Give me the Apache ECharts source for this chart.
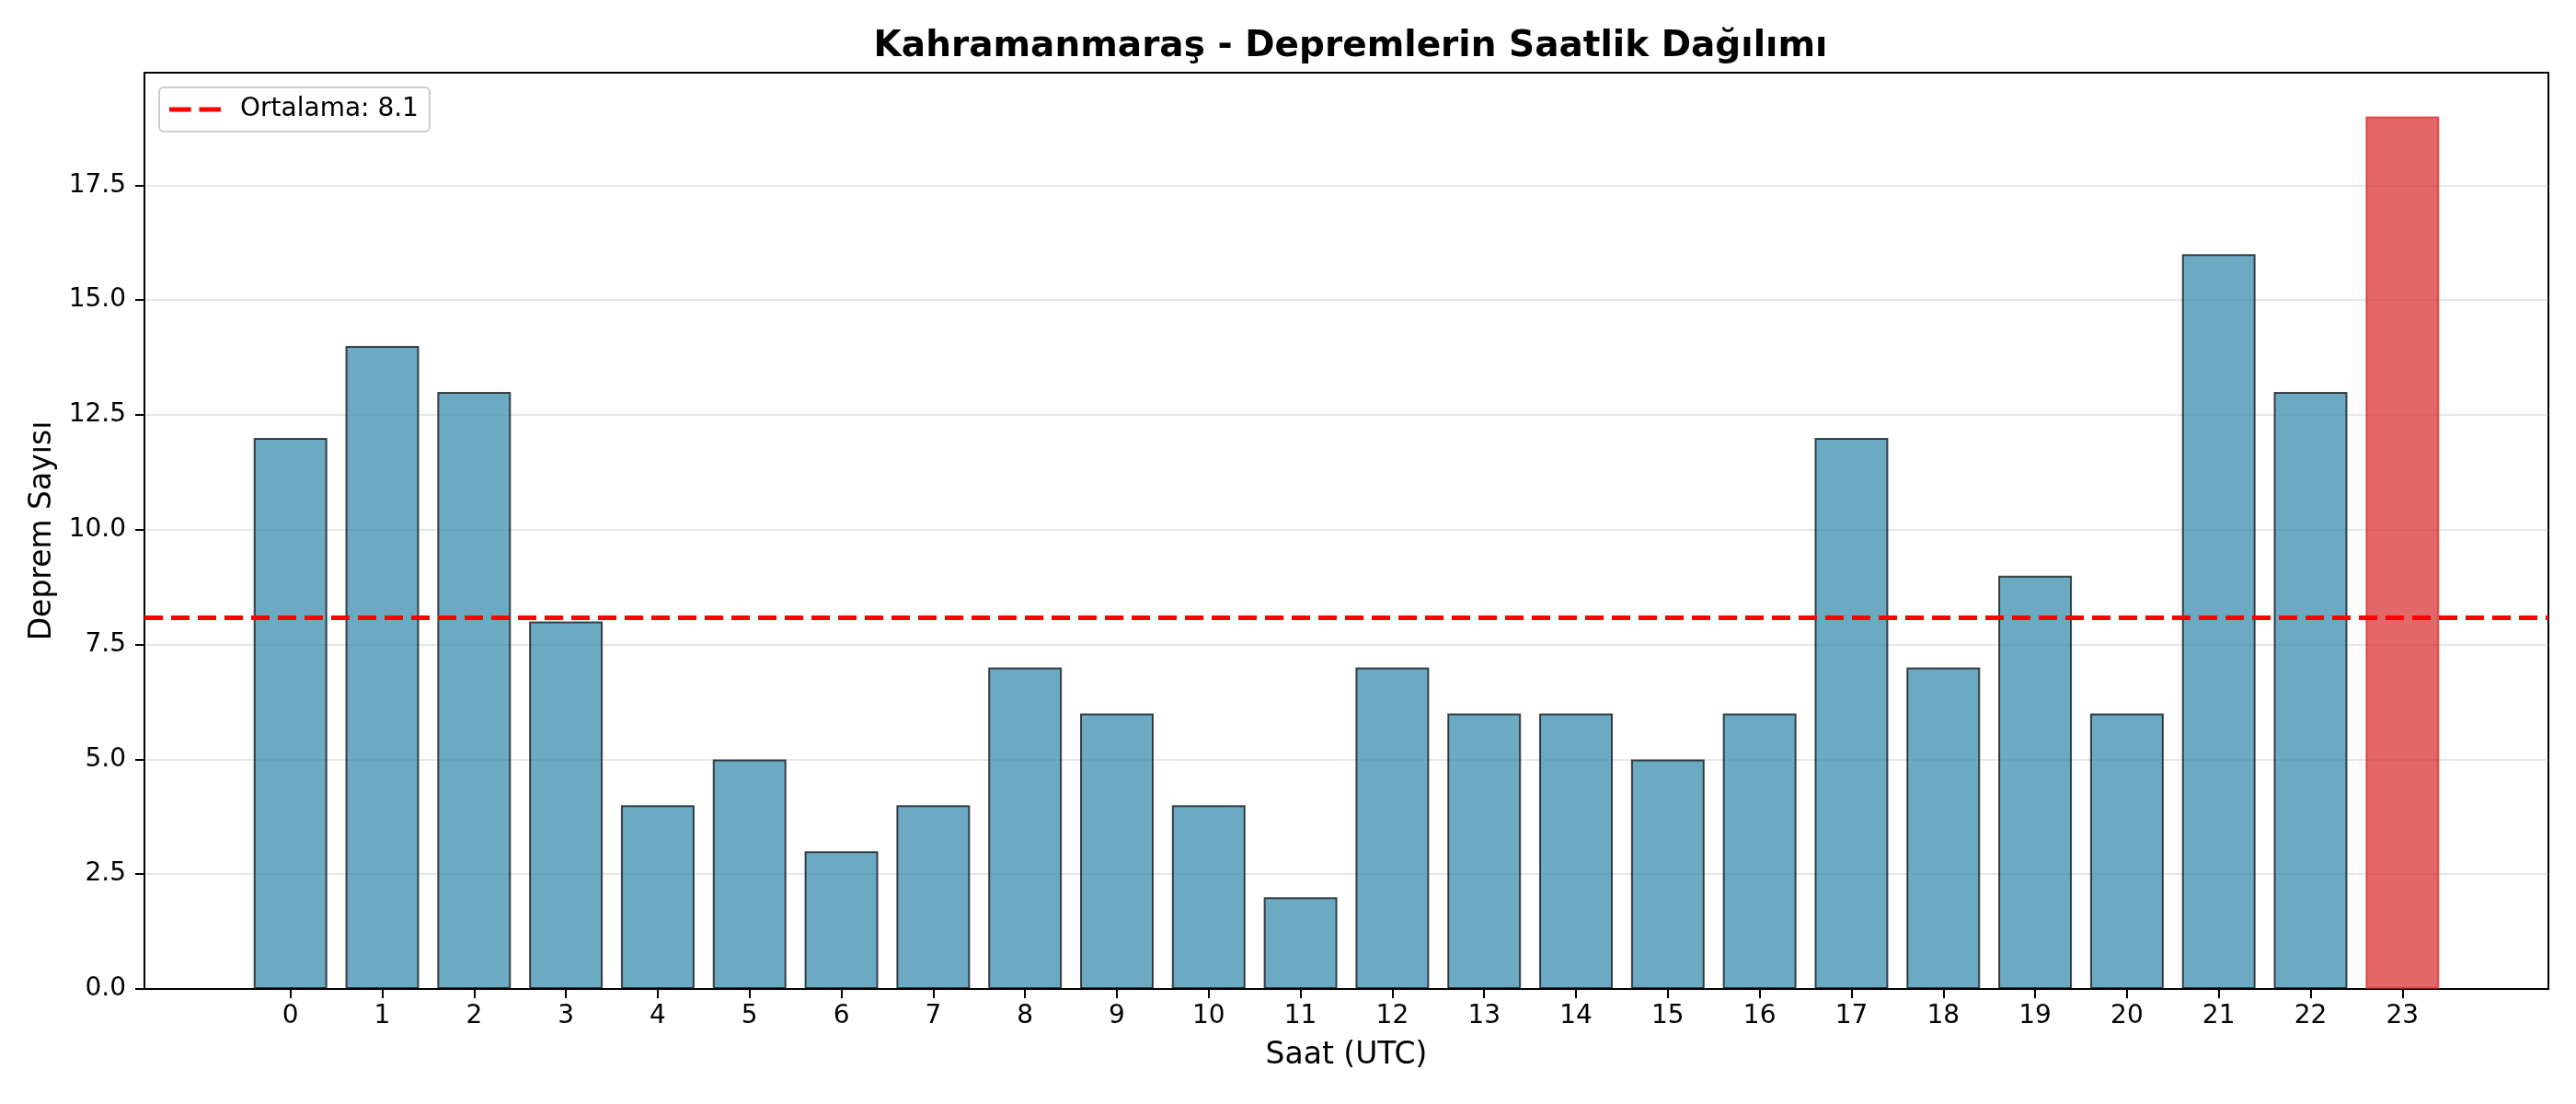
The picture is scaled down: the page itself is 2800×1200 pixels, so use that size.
<!DOCTYPE html>
<html>
<head>
<meta charset="utf-8">
<script src="https://cdn.jsdelivr.net/npm/echarts@6/dist/echarts.min.js"></script>
<style>
html, body { margin: 0; padding: 0; background: #fff; }
#chart { width: 2800px; height: 1200px; }
</style>
</head>
<body>
<div id="chart"></div>
<script>
// saatlik deprem sayilari
const hours = [0, 1, 2, 3, 4, 5, 6, 7, 8, 9, 10, 11, 12, 13, 14, 15, 16, 17, 18, 19, 20, 21, 22, 23];
const counts = [12, 14, 13, 8, 4, 5, 3, 4, 7, 6, 4, 2, 7, 6, 6, 5, 6, 12, 7, 9, 6, 16, 13, 19];
const yTicks = [0, 2.5, 5, 7.5, 10, 12.5, 15, 17.5];

const mean = counts.reduce((a, b) => a + b, 0) / counts.length;
const maxCount = Math.max(...counts);
const meanName = 'Ortalama: ' + mean.toFixed(1);

const font = 'DejaVu Sans';

const chart = echarts.init(document.getElementById('chart'));

// en yogun saat kirmizi
const barData = hours.map((h, i) => {
    const item = { value: [h, counts[i]] };
    if (counts[i] === maxCount) {
        item.itemStyle = {
            color: 'rgba(214,39,40,0.7)',
            borderColor: 'rgba(214,39,40,0.7)'
        };
    }
    return item;
});

const option = {
    backgroundColor: '#fff',
    animation: false,
    title: {
        text: 'Kahramanmaraş - Depremlerin Saatlik Dağılımı',
        left: 1463,
        top: 26,
        textAlign: 'center',
        textStyle: { fontFamily: font, fontSize: 39, fontWeight: 'bold', color: '#000' }
    },
    legend: {
        // iki kesikli cizgi simgesi
        data: [{ name: meanName, icon: 'path://M0,0H47V10H0Z M65,0H112V10H65Z' }],
        left: 173,
        top: 95,
        padding: [10, 12, 10, 11],
        itemWidth: 56,
        itemHeight: 5,
        borderColor: '#cccccc',
        borderWidth: 2,
        borderRadius: 5,
        backgroundColor: 'rgba(255,255,255,0.8)',
        textStyle: { fontFamily: font, fontSize: 28, color: '#000', padding: [0, 0, 0, 16] }
    },
    grid: {
        left: 157,
        right: 30,
        top: 79,
        bottom: 125,
        show: true,
        borderColor: '#000',
        borderWidth: 2,
        backgroundColor: 'transparent'
    },
    xAxis: {
        type: 'value',
        min: -1.59,
        max: 24.59,
        name: 'Saat (UTC)',
        nameLocation: 'middle',
        nameGap: 56,
        nameTextStyle: { fontFamily: font, fontSize: 33, color: '#000' },
        axisLine: { onZero: false, lineStyle: { color: '#000', width: 2 } },
        axisTick: { customValues: hours, length: 10, lineStyle: { color: '#000', width: 2 } },
        axisLabel: {
            customValues: hours,
            margin: 16,
            fontFamily: font, fontSize: 28, color: '#000'
        },
        splitLine: { show: false }
    },
    yAxis: {
        type: 'value',
        min: 0,
        max: 19.95,
        interval: 2.5,
        name: 'Deprem Sayısı',
        nameLocation: 'middle',
        nameGap: 94,
        nameTextStyle: { fontFamily: font, fontSize: 33, color: '#000' },
        axisLine: { show: true, onZero: false, lineStyle: { color: '#000', width: 2 } },
        axisTick: { show: true, customValues: yTicks, length: 10, lineStyle: { color: '#000', width: 2 } },
        axisLabel: {
            customValues: yTicks,
            margin: 20,
            fontFamily: font, fontSize: 28, color: '#000',
            formatter: v => v.toFixed(1)
        },
        splitLine: { show: true, lineStyle: { color: 'rgba(176,176,176,0.3)', width: 2 } }
    },
    series: [
        {
            name: 'Deprem',
            type: 'bar',
            barWidth: 80,
            data: barData,
            itemStyle: {
                color: 'rgba(46,134,171,0.7)',
                borderColor: 'rgba(0,0,0,0.7)',
                borderWidth: 2
            }
        },
        {
            // ortalama cizgisi
            name: meanName,
            type: 'line',
            data: [],
            symbol: 'none',
            lineStyle: { color: '#ff0000', width: 5, type: [20, 9] },
            itemStyle: { color: '#ff0000' },
            markLine: {
                silent: true,
                symbol: ['none', 'none'],
                label: { show: false },
                lineStyle: { color: '#ff0000', width: 5, type: [20, 9] },
                data: [{ yAxis: mean }]
            },
            z: 5
        }
    ]
};

chart.setOption(option);
</script>
</body>
</html>
